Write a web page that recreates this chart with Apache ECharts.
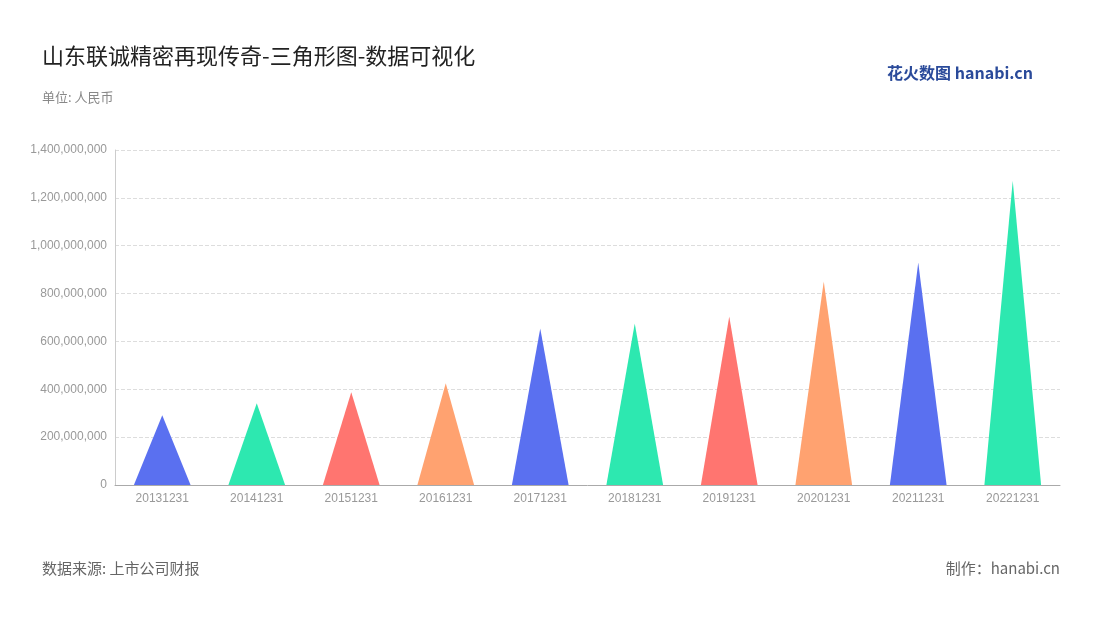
<!DOCTYPE html>
<html><head><meta charset="utf-8">
<script src="https://cdn.jsdelivr.net/npm/echarts@6/dist/echarts.min.js"></script>
<style>body{margin:0}#c{width:1100px;height:620px}</style></head>
<body><div id="c"></div>
<script>
var categories=['20131231','20141231','20151231','20161231','20171231','20181231','20191231','20201231','20211231','20221231'];
var values=[292000000,342000000,388000000,425000000,654000000,675000000,704000000,850000000,929000000,1271000000];
var palette=['#5a70f0','#2de8b0','#ff7570','#ffa270'];
var chart=echarts.init(document.getElementById('c'));
chart.setOption({
  backgroundColor:'#fff',
  title:[{text:'山东联诚精密再现传奇-三角形图-数据可视化',left:37,top:40,textStyle:{fontSize:22,fontWeight:'normal',color:'#222',fontFamily:'Noto Sans CJK SC'}},
    {text:'单位: 人民币',left:37,top:86,textStyle:{fontSize:13,fontWeight:'normal',color:'#888',fontFamily:'Noto Sans CJK SC'}},
    {text:'数据来源: 上市公司财报',left:37,top:556,textStyle:{fontSize:15,fontWeight:'normal',color:'#666',fontFamily:'Noto Sans CJK SC'}},
    {text:'制作：hanabi.cn',right:35,top:556,textStyle:{fontSize:15,fontWeight:'normal',color:'#666',fontFamily:'Noto Sans CJK SC'}},
    {text:'花火数图 hanabi.cn',right:62,top:60,textStyle:{fontSize:16,fontWeight:'bold',color:'#2a4a9a',fontFamily:'Noto Sans CJK SC'}}],
  grid:{left:115,right:40,top:150,bottom:135},
  xAxis:{type:'category',data:categories,axisTick:{show:false},axisLine:{lineStyle:{color:'#aaa'}},axisLabel:{color:'#999',fontSize:12}},
  yAxis:{type:'value',min:0,max:1400000000,interval:200000000,axisLine:{show:true,lineStyle:{color:'#ccc'}},
    splitLine:{lineStyle:{type:'dashed',color:'#ddd'}},
    axisLabel:{color:'#999',fontSize:12,formatter:function(v){return v.toLocaleString('en-US');}}},
  series:[{type:'pictorialBar',symbol:'path://M0,10 L5,0 L10,10 Z',barCategoryGap:'40%',
    data:values.map(function(v,i){return {value:v,itemStyle:{color:palette[i%4]}};})}]
});
</script></body></html>
